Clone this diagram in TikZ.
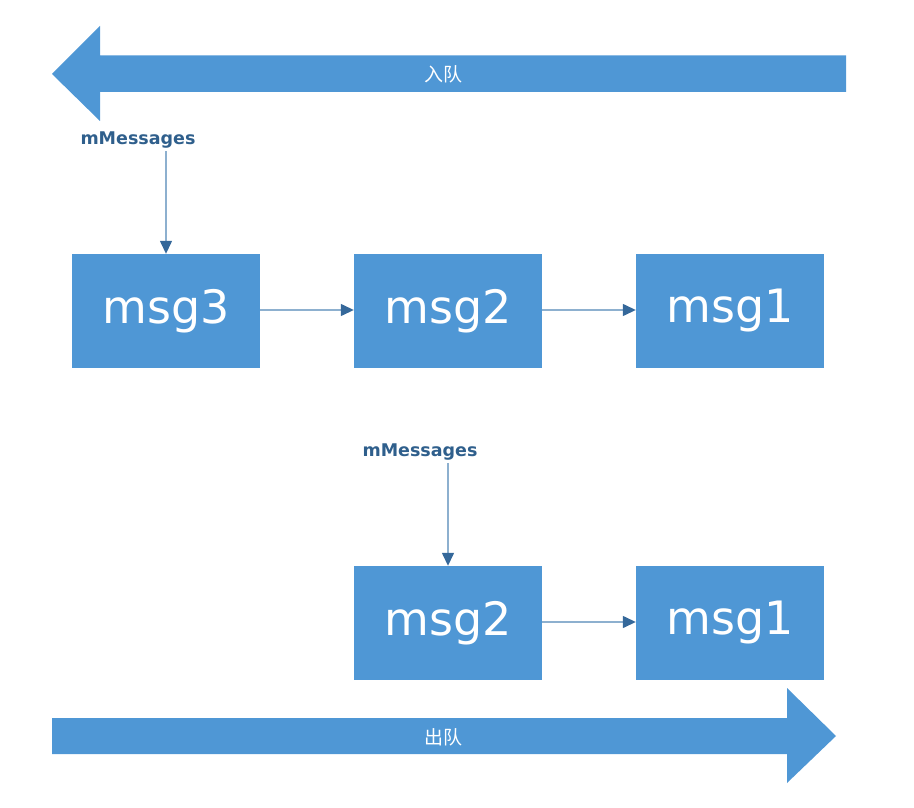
\documentclass[tikz,border=0pt]{standalone}
\usepackage{fontspec}
\setmainfont{DejaVu Sans}
\newfontfamily\cjk{Noto Sans CJK SC}
\usetikzlibrary{arrows.meta}
\definecolor{boxblue}{HTML}{4F97D5}
\definecolor{lbl}{HTML}{2F5F8C}
\definecolor{lineblue}{HTML}{8DB0CF}
\definecolor{tipblue}{HTML}{35689A}
\tikzset{
  msgbox/.style={fill=boxblue, draw=none, minimum width=188pt, minimum height=114pt, inner sep=0pt, text=white, font=\fontsize{46}{50}\selectfont},
  ptr/.style={text=lbl, font=\bfseries\fontsize{17.5}{19}\selectfont, inner sep=1pt},
  link/.style={draw=lineblue, line width=1.4pt, -{Triangle[length=13pt,width=12pt,color=tipblue]}},
  qarrow/.style={fill=boxblue, draw=none},
  qlabel/.style={text=white, font=\cjk\fontsize{19}{20}\selectfont}
}
\begin{document}
\begin{tikzpicture}[x=1pt,y=-1pt]
\useasboundingbox (0,0) rectangle (914,808);
% enqueue arrow (left)
\fill[qarrow] (846,55.5) -- (100,55.5) -- (100,26) -- (52,74) -- (100,121) -- (100,92) -- (846,92) -- cycle;
\node[qlabel] (enq) at (443,74) {入队};
% dequeue arrow (right)
\fill[qarrow] (52,718) -- (787,718) -- (787,688) -- (836,736) -- (787,783) -- (787,754) -- (52,754) -- cycle;
\node[qlabel] (deq) at (443,737) {出队};
% top row
\node[msgbox] (a3) at (166,311) {msg3};
\node[msgbox] (a2) at (448,311) {msg2};
\node[msgbox] (a1) at (730,311) {msg1};
\node[ptr] (p1) at (138,140) {mMessages};
\draw[link] (166,151) -- (a3.north);
\draw[link] (a3.east |- 0,310) -- (a2.west |- 0,310);
\draw[link] (a2.east |- 0,310) -- (a1.west |- 0,310);
% bottom row
\node[msgbox] (b2) at (448,623) {msg2};
\node[msgbox] (b1) at (730,623) {msg1};
\node[ptr] (p2) at (420,452) {mMessages};
\draw[link] (448,463) -- (b2.north);
\draw[link] (b2.east |- 0,622) -- (b1.west |- 0,622);
\end{tikzpicture}
\end{document}
